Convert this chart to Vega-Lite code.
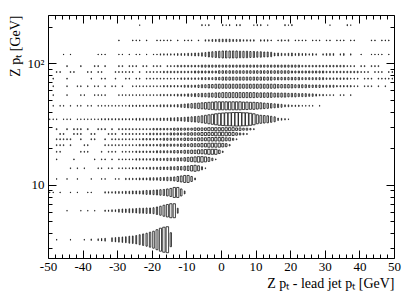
{
"$schema":"https://vega.github.io/schema/vega-lite/v6.json",
"width":346,"height":243,
"autosize":{"type":"none"},
"padding":{"left":48,"top":15,"right":21,"bottom":49},
"background":"#ffffff",
"config":{"view":{"stroke":null},"axis":{"labelFont":"Liberation Serif","titleFont":"Liberation Serif","labelFontSize":13,"titleFontSize":14,"labelColor":"#000","titleColor":"#000","domainColor":"#000","tickColor":"#000","domainWidth":1,"tickWidth":1,"grid":false,"labelFontWeight":"normal","titleFontWeight":"normal","labelFlush":false,"labelOverlap":false}},
"resolve":{"axis":{"x":"independent","y":"independent"}},
"layer":[
{
"data":{"values":[
{"x":-47.5,"b":1,"c":1},{"x":-43.5,"b":1,"c":1},{"x":-39.5,"b":1,"c":1},{"x":-37.5,"b":1,"c":2},{"x":-35.5,"b":1,"c":3},{"x":-34.5,"b":1,"c":5},{"x":-33.5,"b":1,"c":7},{"x":-31.5,"b":1,"c":12},{"x":-30.5,"b":1,"c":15},{"x":-29.5,"b":1,"c":19},{"x":-28.5,"b":1,"c":23},{"x":-27.5,"b":1,"c":27},{"x":-26.5,"b":1,"c":37},{"x":-25.5,"b":1,"c":42},{"x":-24.5,"b":1,"c":54},{"x":-23.5,"b":1,"c":75},{"x":-22.5,"b":1,"c":99},{"x":-21.5,"b":1,"c":126},{"x":-20.5,"b":1,"c":168},{"x":-19.5,"b":1,"c":216},{"x":-18.5,"b":1,"c":299},{"x":-17.5,"b":1,"c":395},{"x":-16.5,"b":1,"c":467},{"x":-15.5,"b":1,"c":505},{"x":-14.5,"b":1,"c":146},
{"x":-44.5,"b":2,"c":2},{"x":-40.5,"b":2,"c":2},{"x":-38.5,"b":2,"c":2},{"x":-36.5,"b":2,"c":2},{"x":-33.5,"b":2,"c":5},{"x":-32.5,"b":2,"c":5},{"x":-31.5,"b":2,"c":9},{"x":-30.5,"b":2,"c":9},{"x":-29.5,"b":2,"c":20},{"x":-28.5,"b":2,"c":27},{"x":-27.5,"b":2,"c":27},{"x":-26.5,"b":2,"c":35},{"x":-25.5,"b":2,"c":35},{"x":-24.5,"b":2,"c":44},{"x":-23.5,"b":2,"c":55},{"x":-22.5,"b":2,"c":55},{"x":-21.5,"b":2,"c":66},{"x":-20.5,"b":2,"c":66},{"x":-19.5,"b":2,"c":79},{"x":-18.5,"b":2,"c":123},{"x":-17.5,"b":2,"c":177},{"x":-16.5,"b":2,"c":264},{"x":-15.5,"b":2,"c":341},{"x":-14.5,"b":2,"c":428},{"x":-13.5,"b":2,"c":428},{"x":-12.5,"b":2,"c":55},
{"x":-49.5,"b":3,"c":4},{"x":-48.5,"b":3,"c":4},{"x":-46.5,"b":3,"c":4},{"x":-43.5,"b":3,"c":4},{"x":-41.5,"b":3,"c":4},{"x":-38.5,"b":3,"c":4},{"x":-37.5,"b":3,"c":4},{"x":-33.5,"b":3,"c":10},{"x":-32.5,"b":3,"c":10},{"x":-31.5,"b":3,"c":10},{"x":-30.5,"b":3,"c":17},{"x":-29.5,"b":3,"c":17},{"x":-28.5,"b":3,"c":17},{"x":-27.5,"b":3,"c":27},{"x":-26.5,"b":3,"c":27},{"x":-25.5,"b":3,"c":39},{"x":-24.5,"b":3,"c":39},{"x":-23.5,"b":3,"c":39},{"x":-22.5,"b":3,"c":53},{"x":-21.5,"b":3,"c":69},{"x":-20.5,"b":3,"c":69},{"x":-19.5,"b":3,"c":88},{"x":-18.5,"b":3,"c":108},{"x":-17.5,"b":3,"c":131},{"x":-16.5,"b":3,"c":156},{"x":-15.5,"b":3,"c":213},{"x":-14.5,"b":3,"c":278},{"x":-13.5,"b":3,"c":434},{"x":-12.5,"b":3,"c":434},{"x":-11.5,"b":3,"c":213},{"x":-10.5,"b":3,"c":39},
{"x":-47.5,"b":4,"c":7},{"x":-44.5,"b":4,"c":7},{"x":-41.5,"b":4,"c":7},{"x":-37.5,"b":4,"c":7},{"x":-34.5,"b":4,"c":7},{"x":-33.5,"b":4,"c":7},{"x":-30.5,"b":4,"c":7},{"x":-29.5,"b":4,"c":7},{"x":-27.5,"b":4,"c":16},{"x":-26.5,"b":4,"c":16},{"x":-25.5,"b":4,"c":16},{"x":-24.5,"b":4,"c":16},{"x":-23.5,"b":4,"c":29},{"x":-22.5,"b":4,"c":29},{"x":-21.5,"b":4,"c":29},{"x":-20.5,"b":4,"c":45},{"x":-19.5,"b":4,"c":45},{"x":-18.5,"b":4,"c":45},{"x":-17.5,"b":4,"c":65},{"x":-16.5,"b":4,"c":65},{"x":-15.5,"b":4,"c":88},{"x":-14.5,"b":4,"c":88},{"x":-13.5,"b":4,"c":115},{"x":-12.5,"b":4,"c":180},{"x":-11.5,"b":4,"c":260},{"x":-10.5,"b":4,"c":354},{"x":-9.5,"b":4,"c":354},{"x":-8.5,"b":4,"c":180},{"x":-7.5,"b":4,"c":29},
{"x":-43.5,"b":5,"c":11},{"x":-41.5,"b":5,"c":11},{"x":-39.5,"b":5,"c":11},{"x":-35.5,"b":5,"c":11},{"x":-34.5,"b":5,"c":11},{"x":-32.5,"b":5,"c":11},{"x":-31.5,"b":5,"c":11},{"x":-29.5,"b":5,"c":11},{"x":-28.5,"b":5,"c":11},{"x":-27.5,"b":5,"c":11},{"x":-26.5,"b":5,"c":11},{"x":-25.5,"b":5,"c":24},{"x":-24.5,"b":5,"c":24},{"x":-23.5,"b":5,"c":24},{"x":-22.5,"b":5,"c":24},{"x":-21.5,"b":5,"c":24},{"x":-20.5,"b":5,"c":43},{"x":-19.5,"b":5,"c":43},{"x":-18.5,"b":5,"c":43},{"x":-17.5,"b":5,"c":68},{"x":-16.5,"b":5,"c":68},{"x":-15.5,"b":5,"c":68},{"x":-14.5,"b":5,"c":97},{"x":-13.5,"b":5,"c":97},{"x":-12.5,"b":5,"c":132},{"x":-11.5,"b":5,"c":132},{"x":-10.5,"b":5,"c":173},{"x":-9.5,"b":5,"c":219},{"x":-8.5,"b":5,"c":327},{"x":-7.5,"b":5,"c":389},{"x":-6.5,"b":5,"c":270},{"x":-5.5,"b":5,"c":97},{"x":-4.5,"b":5,"c":11},
{"x":-47.5,"b":6,"c":15},{"x":-42.5,"b":6,"c":15},{"x":-36.5,"b":6,"c":15},{"x":-34.5,"b":6,"c":15},{"x":-33.5,"b":6,"c":15},{"x":-31.5,"b":6,"c":15},{"x":-29.5,"b":6,"c":15},{"x":-28.5,"b":6,"c":15},{"x":-27.5,"b":6,"c":15},{"x":-26.5,"b":6,"c":15},{"x":-25.5,"b":6,"c":15},{"x":-24.5,"b":6,"c":34},{"x":-23.5,"b":6,"c":34},{"x":-22.5,"b":6,"c":34},{"x":-21.5,"b":6,"c":34},{"x":-20.5,"b":6,"c":34},{"x":-19.5,"b":6,"c":61},{"x":-18.5,"b":6,"c":61},{"x":-17.5,"b":6,"c":61},{"x":-16.5,"b":6,"c":61},{"x":-15.5,"b":6,"c":95},{"x":-14.5,"b":6,"c":95},{"x":-13.5,"b":6,"c":95},{"x":-12.5,"b":6,"c":136},{"x":-11.5,"b":6,"c":136},{"x":-10.5,"b":6,"c":185},{"x":-9.5,"b":6,"c":242},{"x":-8.5,"b":6,"c":306},{"x":-7.5,"b":6,"c":378},{"x":-6.5,"b":6,"c":458},{"x":-5.5,"b":6,"c":458},{"x":-4.5,"b":6,"c":378},{"x":-3.5,"b":6,"c":242},{"x":-2.5,"b":6,"c":95},{"x":-1.5,"b":6,"c":15},
{"x":-47.5,"b":7,"c":20},{"x":-46.5,"b":7,"c":20},{"x":-40.5,"b":7,"c":20},{"x":-39.5,"b":7,"c":20},{"x":-38.5,"b":7,"c":20},{"x":-34.5,"b":7,"c":20},{"x":-32.5,"b":7,"c":20},{"x":-31.5,"b":7,"c":20},{"x":-30.5,"b":7,"c":20},{"x":-28.5,"b":7,"c":20},{"x":-27.5,"b":7,"c":20},{"x":-26.5,"b":7,"c":20},{"x":-25.5,"b":7,"c":20},{"x":-24.5,"b":7,"c":45},{"x":-23.5,"b":7,"c":45},{"x":-22.5,"b":7,"c":45},{"x":-21.5,"b":7,"c":45},{"x":-20.5,"b":7,"c":45},{"x":-19.5,"b":7,"c":45},{"x":-18.5,"b":7,"c":80},{"x":-17.5,"b":7,"c":80},{"x":-16.5,"b":7,"c":80},{"x":-15.5,"b":7,"c":80},{"x":-14.5,"b":7,"c":80},{"x":-13.5,"b":7,"c":126},{"x":-12.5,"b":7,"c":126},{"x":-11.5,"b":7,"c":126},{"x":-10.5,"b":7,"c":181},{"x":-9.5,"b":7,"c":181},{"x":-8.5,"b":7,"c":246},{"x":-7.5,"b":7,"c":246},{"x":-6.5,"b":7,"c":322},{"x":-5.5,"b":7,"c":322},{"x":-4.5,"b":7,"c":407},{"x":-3.5,"b":7,"c":503},{"x":-2.5,"b":7,"c":503},{"x":-1.5,"b":7,"c":503},{"x":-0.5,"b":7,"c":246},{"x":0.5,"b":7,"c":45},
{"x":-47.5,"b":8,"c":26},{"x":-46.5,"b":8,"c":26},{"x":-45.5,"b":8,"c":26},{"x":-43.5,"b":8,"c":26},{"x":-39.5,"b":8,"c":26},{"x":-38.5,"b":8,"c":26},{"x":-33.5,"b":8,"c":26},{"x":-32.5,"b":8,"c":26},{"x":-31.5,"b":8,"c":26},{"x":-30.5,"b":8,"c":26},{"x":-29.5,"b":8,"c":26},{"x":-28.5,"b":8,"c":26},{"x":-27.5,"b":8,"c":26},{"x":-26.5,"b":8,"c":26},{"x":-25.5,"b":8,"c":26},{"x":-24.5,"b":8,"c":26},{"x":-23.5,"b":8,"c":58},{"x":-22.5,"b":8,"c":58},{"x":-21.5,"b":8,"c":58},{"x":-20.5,"b":8,"c":58},{"x":-19.5,"b":8,"c":58},{"x":-18.5,"b":8,"c":58},{"x":-17.5,"b":8,"c":104},{"x":-16.5,"b":8,"c":104},{"x":-15.5,"b":8,"c":104},{"x":-14.5,"b":8,"c":104},{"x":-13.5,"b":8,"c":104},{"x":-12.5,"b":8,"c":104},{"x":-11.5,"b":8,"c":162},{"x":-10.5,"b":8,"c":162},{"x":-9.5,"b":8,"c":162},{"x":-8.5,"b":8,"c":233},{"x":-7.5,"b":8,"c":233},{"x":-6.5,"b":8,"c":233},{"x":-5.5,"b":8,"c":318},{"x":-4.5,"b":8,"c":318},{"x":-3.5,"b":8,"c":415},{"x":-2.5,"b":8,"c":415},{"x":-1.5,"b":8,"c":415},{"x":-0.5,"b":8,"c":415},{"x":0.5,"b":8,"c":318},{"x":1.5,"b":8,"c":233},{"x":2.5,"b":8,"c":58},
{"x":-47.5,"b":9,"c":32},{"x":-46.5,"b":9,"c":32},{"x":-45.5,"b":9,"c":32},{"x":-44.5,"b":9,"c":32},{"x":-43.5,"b":9,"c":32},{"x":-40.5,"b":9,"c":32},{"x":-37.5,"b":9,"c":32},{"x":-36.5,"b":9,"c":32},{"x":-33.5,"b":9,"c":32},{"x":-31.5,"b":9,"c":32},{"x":-30.5,"b":9,"c":32},{"x":-29.5,"b":9,"c":32},{"x":-28.5,"b":9,"c":32},{"x":-27.5,"b":9,"c":32},{"x":-26.5,"b":9,"c":32},{"x":-25.5,"b":9,"c":32},{"x":-24.5,"b":9,"c":32},{"x":-23.5,"b":9,"c":32},{"x":-22.5,"b":9,"c":73},{"x":-21.5,"b":9,"c":73},{"x":-20.5,"b":9,"c":73},{"x":-19.5,"b":9,"c":73},{"x":-18.5,"b":9,"c":73},{"x":-17.5,"b":9,"c":73},{"x":-16.5,"b":9,"c":129},{"x":-15.5,"b":9,"c":129},{"x":-14.5,"b":9,"c":129},{"x":-13.5,"b":9,"c":129},{"x":-12.5,"b":9,"c":129},{"x":-11.5,"b":9,"c":129},{"x":-10.5,"b":9,"c":202},{"x":-9.5,"b":9,"c":202},{"x":-8.5,"b":9,"c":202},{"x":-7.5,"b":9,"c":202},{"x":-6.5,"b":9,"c":291},{"x":-5.5,"b":9,"c":291},{"x":-4.5,"b":9,"c":291},{"x":-3.5,"b":9,"c":396},{"x":-2.5,"b":9,"c":396},{"x":-1.5,"b":9,"c":396},{"x":-0.5,"b":9,"c":396},{"x":0.5,"b":9,"c":396},{"x":1.5,"b":9,"c":291},{"x":2.5,"b":9,"c":291},{"x":3.5,"b":9,"c":129},{"x":4.5,"b":9,"c":32},
{"x":-46.5,"b":10,"c":40},{"x":-45.5,"b":10,"c":40},{"x":-42.5,"b":10,"c":40},{"x":-41.5,"b":10,"c":40},{"x":-40.5,"b":10,"c":40},{"x":-37.5,"b":10,"c":40},{"x":-36.5,"b":10,"c":40},{"x":-32.5,"b":10,"c":40},{"x":-31.5,"b":10,"c":40},{"x":-30.5,"b":10,"c":40},{"x":-28.5,"b":10,"c":40},{"x":-27.5,"b":10,"c":40},{"x":-26.5,"b":10,"c":40},{"x":-25.5,"b":10,"c":40},{"x":-24.5,"b":10,"c":40},{"x":-23.5,"b":10,"c":40},{"x":-22.5,"b":10,"c":40},{"x":-21.5,"b":10,"c":40},{"x":-20.5,"b":10,"c":89},{"x":-19.5,"b":10,"c":89},{"x":-18.5,"b":10,"c":89},{"x":-17.5,"b":10,"c":89},{"x":-16.5,"b":10,"c":89},{"x":-15.5,"b":10,"c":89},{"x":-14.5,"b":10,"c":158},{"x":-13.5,"b":10,"c":158},{"x":-12.5,"b":10,"c":158},{"x":-11.5,"b":10,"c":158},{"x":-10.5,"b":10,"c":158},{"x":-9.5,"b":10,"c":247},{"x":-8.5,"b":10,"c":247},{"x":-7.5,"b":10,"c":247},{"x":-6.5,"b":10,"c":247},{"x":-5.5,"b":10,"c":356},{"x":-4.5,"b":10,"c":356},{"x":-3.5,"b":10,"c":356},{"x":-2.5,"b":10,"c":356},{"x":-1.5,"b":10,"c":484},{"x":-0.5,"b":10,"c":484},{"x":0.5,"b":10,"c":484},{"x":1.5,"b":10,"c":484},{"x":2.5,"b":10,"c":356},{"x":3.5,"b":10,"c":356},{"x":4.5,"b":10,"c":247},{"x":5.5,"b":10,"c":158},{"x":6.5,"b":10,"c":89},{"x":7.5,"b":10,"c":40},
{"x":-47.5,"b":11,"c":47},{"x":-44.5,"b":11,"c":47},{"x":-42.5,"b":11,"c":47},{"x":-41.5,"b":11,"c":47},{"x":-40.5,"b":11,"c":47},{"x":-38.5,"b":11,"c":47},{"x":-35.5,"b":11,"c":47},{"x":-34.5,"b":11,"c":47},{"x":-33.5,"b":11,"c":47},{"x":-31.5,"b":11,"c":47},{"x":-29.5,"b":11,"c":47},{"x":-28.5,"b":11,"c":47},{"x":-27.5,"b":11,"c":47},{"x":-26.5,"b":11,"c":47},{"x":-25.5,"b":11,"c":47},{"x":-24.5,"b":11,"c":47},{"x":-23.5,"b":11,"c":47},{"x":-22.5,"b":11,"c":47},{"x":-21.5,"b":11,"c":47},{"x":-20.5,"b":11,"c":47},{"x":-19.5,"b":11,"c":107},{"x":-18.5,"b":11,"c":107},{"x":-17.5,"b":11,"c":107},{"x":-16.5,"b":11,"c":107},{"x":-15.5,"b":11,"c":107},{"x":-14.5,"b":11,"c":107},{"x":-13.5,"b":11,"c":190},{"x":-12.5,"b":11,"c":190},{"x":-11.5,"b":11,"c":190},{"x":-10.5,"b":11,"c":190},{"x":-9.5,"b":11,"c":190},{"x":-8.5,"b":11,"c":190},{"x":-7.5,"b":11,"c":297},{"x":-6.5,"b":11,"c":297},{"x":-5.5,"b":11,"c":297},{"x":-4.5,"b":11,"c":297},{"x":-3.5,"b":11,"c":427},{"x":-2.5,"b":11,"c":427},{"x":-1.5,"b":11,"c":427},{"x":-0.5,"b":11,"c":427},{"x":0.5,"b":11,"c":427},{"x":1.5,"b":11,"c":427},{"x":2.5,"b":11,"c":427},{"x":3.5,"b":11,"c":427},{"x":4.5,"b":11,"c":297},{"x":5.5,"b":11,"c":297},{"x":6.5,"b":11,"c":190},{"x":7.5,"b":11,"c":190},{"x":8.5,"b":11,"c":107},{"x":9.5,"b":11,"c":47},
{"x":-49.5,"b":12,"c":4},{"x":-48.5,"b":12,"c":4},{"x":-47.5,"b":12,"c":4},{"x":-45.5,"b":12,"c":4},{"x":-44.5,"b":12,"c":4},{"x":-43.5,"b":12,"c":4},{"x":-41.5,"b":12,"c":4},{"x":-40.5,"b":12,"c":4},{"x":-39.5,"b":12,"c":4},{"x":-38.5,"b":12,"c":4},{"x":-37.5,"b":12,"c":4},{"x":-36.5,"b":12,"c":4},{"x":-35.5,"b":12,"c":4},{"x":-34.5,"b":12,"c":10},{"x":-33.5,"b":12,"c":10},{"x":-32.5,"b":12,"c":10},{"x":-31.5,"b":12,"c":10},{"x":-30.5,"b":12,"c":10},{"x":-29.5,"b":12,"c":10},{"x":-28.5,"b":12,"c":10},{"x":-27.5,"b":12,"c":10},{"x":-26.5,"b":12,"c":10},{"x":-25.5,"b":12,"c":10},{"x":-24.5,"b":12,"c":17},{"x":-23.5,"b":12,"c":17},{"x":-22.5,"b":12,"c":17},{"x":-21.5,"b":12,"c":17},{"x":-20.5,"b":12,"c":17},{"x":-19.5,"b":12,"c":17},{"x":-18.5,"b":12,"c":17},{"x":-17.5,"b":12,"c":27},{"x":-16.5,"b":12,"c":27},{"x":-15.5,"b":12,"c":27},{"x":-14.5,"b":12,"c":39},{"x":-13.5,"b":12,"c":39},{"x":-12.5,"b":12,"c":53},{"x":-11.5,"b":12,"c":53},{"x":-10.5,"b":12,"c":69},{"x":-9.5,"b":12,"c":88},{"x":-8.5,"b":12,"c":108},{"x":-7.5,"b":12,"c":131},{"x":-6.5,"b":12,"c":156},{"x":-5.5,"b":12,"c":213},{"x":-4.5,"b":12,"c":278},{"x":-3.5,"b":12,"c":352},{"x":-2.5,"b":12,"c":434},{"x":-1.5,"b":12,"c":525},{"x":-0.5,"b":12,"c":625},{"x":0.5,"b":12,"c":678},{"x":1.5,"b":12,"c":733},{"x":2.5,"b":12,"c":733},{"x":3.5,"b":12,"c":791},{"x":4.5,"b":12,"c":791},{"x":5.5,"b":12,"c":791},{"x":6.5,"b":12,"c":733},{"x":7.5,"b":12,"c":733},{"x":8.5,"b":12,"c":625},{"x":9.5,"b":12,"c":525},{"x":10.5,"b":12,"c":352},{"x":11.5,"b":12,"c":278},{"x":12.5,"b":12,"c":244},{"x":13.5,"b":12,"c":213},{"x":14.5,"b":12,"c":156},{"x":15.5,"b":12,"c":108},{"x":16.5,"b":12,"c":27},{"x":17.5,"b":12,"c":17},{"x":18.5,"b":12,"c":10},{"x":19.5,"b":12,"c":4},
{"x":-48.5,"b":13,"c":7},{"x":-46.5,"b":13,"c":7},{"x":-45.5,"b":13,"c":7},{"x":-43.5,"b":13,"c":7},{"x":-41.5,"b":13,"c":7},{"x":-40.5,"b":13,"c":7},{"x":-38.5,"b":13,"c":7},{"x":-37.5,"b":13,"c":7},{"x":-35.5,"b":13,"c":7},{"x":-34.5,"b":13,"c":7},{"x":-33.5,"b":13,"c":7},{"x":-32.5,"b":13,"c":7},{"x":-31.5,"b":13,"c":7},{"x":-30.5,"b":13,"c":7},{"x":-29.5,"b":13,"c":7},{"x":-28.5,"b":13,"c":7},{"x":-27.5,"b":13,"c":7},{"x":-26.5,"b":13,"c":16},{"x":-25.5,"b":13,"c":16},{"x":-24.5,"b":13,"c":16},{"x":-23.5,"b":13,"c":16},{"x":-22.5,"b":13,"c":16},{"x":-21.5,"b":13,"c":16},{"x":-20.5,"b":13,"c":16},{"x":-19.5,"b":13,"c":16},{"x":-18.5,"b":13,"c":16},{"x":-17.5,"b":13,"c":29},{"x":-16.5,"b":13,"c":29},{"x":-15.5,"b":13,"c":29},{"x":-14.5,"b":13,"c":29},{"x":-13.5,"b":13,"c":29},{"x":-12.5,"b":13,"c":45},{"x":-11.5,"b":13,"c":65},{"x":-10.5,"b":13,"c":88},{"x":-9.5,"b":13,"c":115},{"x":-8.5,"b":13,"c":146},{"x":-7.5,"b":13,"c":180},{"x":-6.5,"b":13,"c":218},{"x":-5.5,"b":13,"c":260},{"x":-4.5,"b":13,"c":305},{"x":-3.5,"b":13,"c":354},{"x":-2.5,"b":13,"c":406},{"x":-1.5,"b":13,"c":462},{"x":-0.5,"b":13,"c":462},{"x":0.5,"b":13,"c":462},{"x":1.5,"b":13,"c":462},{"x":2.5,"b":13,"c":462},{"x":3.5,"b":13,"c":462},{"x":4.5,"b":13,"c":462},{"x":5.5,"b":13,"c":462},{"x":6.5,"b":13,"c":406},{"x":7.5,"b":13,"c":406},{"x":8.5,"b":13,"c":354},{"x":9.5,"b":13,"c":354},{"x":10.5,"b":13,"c":305},{"x":11.5,"b":13,"c":260},{"x":12.5,"b":13,"c":218},{"x":13.5,"b":13,"c":180},{"x":14.5,"b":13,"c":146},{"x":15.5,"b":13,"c":115},{"x":16.5,"b":13,"c":88},{"x":17.5,"b":13,"c":65},{"x":18.5,"b":13,"c":29},{"x":19.5,"b":13,"c":29},{"x":20.5,"b":13,"c":16},{"x":21.5,"b":13,"c":16},{"x":22.5,"b":13,"c":16},{"x":23.5,"b":13,"c":7},{"x":24.5,"b":13,"c":7},{"x":25.5,"b":13,"c":7},{"x":26.5,"b":13,"c":7},{"x":28.5,"b":13,"c":7},
{"x":-48.5,"b":14,"c":11},{"x":-44.5,"b":14,"c":11},{"x":-40.5,"b":14,"c":11},{"x":-39.5,"b":14,"c":11},{"x":-36.5,"b":14,"c":11},{"x":-35.5,"b":14,"c":11},{"x":-34.5,"b":14,"c":11},{"x":-33.5,"b":14,"c":11},{"x":-29.5,"b":14,"c":11},{"x":-28.5,"b":14,"c":11},{"x":-27.5,"b":14,"c":11},{"x":-26.5,"b":14,"c":11},{"x":-25.5,"b":14,"c":11},{"x":-24.5,"b":14,"c":11},{"x":-23.5,"b":14,"c":11},{"x":-22.5,"b":14,"c":11},{"x":-21.5,"b":14,"c":11},{"x":-20.5,"b":14,"c":11},{"x":-19.5,"b":14,"c":11},{"x":-18.5,"b":14,"c":11},{"x":-17.5,"b":14,"c":24},{"x":-16.5,"b":14,"c":24},{"x":-15.5,"b":14,"c":24},{"x":-14.5,"b":14,"c":24},{"x":-13.5,"b":14,"c":24},{"x":-12.5,"b":14,"c":43},{"x":-11.5,"b":14,"c":43},{"x":-10.5,"b":14,"c":43},{"x":-9.5,"b":14,"c":68},{"x":-8.5,"b":14,"c":68},{"x":-7.5,"b":14,"c":97},{"x":-6.5,"b":14,"c":97},{"x":-5.5,"b":14,"c":132},{"x":-4.5,"b":14,"c":132},{"x":-3.5,"b":14,"c":173},{"x":-2.5,"b":14,"c":173},{"x":-1.5,"b":14,"c":219},{"x":-0.5,"b":14,"c":219},{"x":0.5,"b":14,"c":270},{"x":1.5,"b":14,"c":270},{"x":2.5,"b":14,"c":270},{"x":3.5,"b":14,"c":270},{"x":4.5,"b":14,"c":270},{"x":5.5,"b":14,"c":270},{"x":6.5,"b":14,"c":270},{"x":7.5,"b":14,"c":270},{"x":8.5,"b":14,"c":270},{"x":9.5,"b":14,"c":270},{"x":10.5,"b":14,"c":219},{"x":11.5,"b":14,"c":219},{"x":12.5,"b":14,"c":219},{"x":13.5,"b":14,"c":219},{"x":14.5,"b":14,"c":219},{"x":15.5,"b":14,"c":173},{"x":16.5,"b":14,"c":173},{"x":17.5,"b":14,"c":173},{"x":18.5,"b":14,"c":173},{"x":19.5,"b":14,"c":132},{"x":20.5,"b":14,"c":132},{"x":21.5,"b":14,"c":132},{"x":22.5,"b":14,"c":97},{"x":23.5,"b":14,"c":97},{"x":24.5,"b":14,"c":97},{"x":25.5,"b":14,"c":68},{"x":26.5,"b":14,"c":68},{"x":27.5,"b":14,"c":43},{"x":28.5,"b":14,"c":24},{"x":29.5,"b":14,"c":24},{"x":30.5,"b":14,"c":11},{"x":31.5,"b":14,"c":11},{"x":32.5,"b":14,"c":11},{"x":34.5,"b":14,"c":11},{"x":35.5,"b":14,"c":11},{"x":37.5,"b":14,"c":11},
{"x":-48.5,"b":15,"c":15},{"x":-44.5,"b":15,"c":15},{"x":-41.5,"b":15,"c":15},{"x":-40.5,"b":15,"c":15},{"x":-38.5,"b":15,"c":15},{"x":-36.5,"b":15,"c":15},{"x":-35.5,"b":15,"c":15},{"x":-33.5,"b":15,"c":15},{"x":-31.5,"b":15,"c":15},{"x":-30.5,"b":15,"c":15},{"x":-28.5,"b":15,"c":15},{"x":-25.5,"b":15,"c":15},{"x":-24.5,"b":15,"c":15},{"x":-23.5,"b":15,"c":15},{"x":-22.5,"b":15,"c":15},{"x":-21.5,"b":15,"c":15},{"x":-20.5,"b":15,"c":15},{"x":-19.5,"b":15,"c":15},{"x":-18.5,"b":15,"c":15},{"x":-17.5,"b":15,"c":15},{"x":-16.5,"b":15,"c":34},{"x":-15.5,"b":15,"c":34},{"x":-14.5,"b":15,"c":34},{"x":-13.5,"b":15,"c":34},{"x":-12.5,"b":15,"c":34},{"x":-11.5,"b":15,"c":34},{"x":-10.5,"b":15,"c":61},{"x":-9.5,"b":15,"c":61},{"x":-8.5,"b":15,"c":61},{"x":-7.5,"b":15,"c":61},{"x":-6.5,"b":15,"c":95},{"x":-5.5,"b":15,"c":136},{"x":-4.5,"b":15,"c":136},{"x":-3.5,"b":15,"c":185},{"x":-2.5,"b":15,"c":185},{"x":-1.5,"b":15,"c":242},{"x":-0.5,"b":15,"c":242},{"x":0.5,"b":15,"c":242},{"x":1.5,"b":15,"c":242},{"x":2.5,"b":15,"c":242},{"x":3.5,"b":15,"c":242},{"x":4.5,"b":15,"c":242},{"x":5.5,"b":15,"c":242},{"x":6.5,"b":15,"c":242},{"x":7.5,"b":15,"c":242},{"x":8.5,"b":15,"c":242},{"x":9.5,"b":15,"c":242},{"x":10.5,"b":15,"c":242},{"x":11.5,"b":15,"c":242},{"x":12.5,"b":15,"c":242},{"x":13.5,"b":15,"c":242},{"x":14.5,"b":15,"c":242},{"x":15.5,"b":15,"c":242},{"x":16.5,"b":15,"c":185},{"x":17.5,"b":15,"c":185},{"x":18.5,"b":15,"c":185},{"x":19.5,"b":15,"c":185},{"x":20.5,"b":15,"c":185},{"x":21.5,"b":15,"c":136},{"x":22.5,"b":15,"c":136},{"x":23.5,"b":15,"c":136},{"x":24.5,"b":15,"c":136},{"x":25.5,"b":15,"c":95},{"x":26.5,"b":15,"c":95},{"x":27.5,"b":15,"c":95},{"x":28.5,"b":15,"c":95},{"x":29.5,"b":15,"c":61},{"x":30.5,"b":15,"c":61},{"x":31.5,"b":15,"c":61},{"x":32.5,"b":15,"c":61},{"x":33.5,"b":15,"c":34},{"x":34.5,"b":15,"c":34},{"x":35.5,"b":15,"c":34},{"x":36.5,"b":15,"c":34},{"x":37.5,"b":15,"c":34},{"x":38.5,"b":15,"c":15},{"x":39.5,"b":15,"c":15},{"x":41.5,"b":15,"c":15},{"x":42.5,"b":15,"c":15},{"x":43.5,"b":15,"c":15},{"x":45.5,"b":15,"c":15},{"x":47.5,"b":15,"c":15},
{"x":-48.5,"b":16,"c":20},{"x":-44.5,"b":16,"c":20},{"x":-37.5,"b":16,"c":20},{"x":-34.5,"b":16,"c":20},{"x":-33.5,"b":16,"c":20},{"x":-30.5,"b":16,"c":20},{"x":-27.5,"b":16,"c":20},{"x":-26.5,"b":16,"c":20},{"x":-24.5,"b":16,"c":20},{"x":-23.5,"b":16,"c":20},{"x":-21.5,"b":16,"c":20},{"x":-20.5,"b":16,"c":20},{"x":-19.5,"b":16,"c":20},{"x":-18.5,"b":16,"c":20},{"x":-17.5,"b":16,"c":20},{"x":-16.5,"b":16,"c":20},{"x":-15.5,"b":16,"c":20},{"x":-14.5,"b":16,"c":20},{"x":-13.5,"b":16,"c":20},{"x":-12.5,"b":16,"c":20},{"x":-11.5,"b":16,"c":45},{"x":-10.5,"b":16,"c":45},{"x":-9.5,"b":16,"c":45},{"x":-8.5,"b":16,"c":45},{"x":-7.5,"b":16,"c":45},{"x":-6.5,"b":16,"c":45},{"x":-5.5,"b":16,"c":80},{"x":-4.5,"b":16,"c":80},{"x":-3.5,"b":16,"c":80},{"x":-2.5,"b":16,"c":80},{"x":-1.5,"b":16,"c":126},{"x":-0.5,"b":16,"c":126},{"x":0.5,"b":16,"c":181},{"x":1.5,"b":16,"c":181},{"x":2.5,"b":16,"c":181},{"x":3.5,"b":16,"c":181},{"x":4.5,"b":16,"c":181},{"x":5.5,"b":16,"c":181},{"x":6.5,"b":16,"c":181},{"x":7.5,"b":16,"c":181},{"x":8.5,"b":16,"c":181},{"x":9.5,"b":16,"c":181},{"x":10.5,"b":16,"c":181},{"x":11.5,"b":16,"c":181},{"x":12.5,"b":16,"c":181},{"x":13.5,"b":16,"c":181},{"x":14.5,"b":16,"c":181},{"x":15.5,"b":16,"c":126},{"x":16.5,"b":16,"c":126},{"x":17.5,"b":16,"c":126},{"x":18.5,"b":16,"c":126},{"x":19.5,"b":16,"c":126},{"x":20.5,"b":16,"c":126},{"x":21.5,"b":16,"c":126},{"x":22.5,"b":16,"c":126},{"x":23.5,"b":16,"c":80},{"x":24.5,"b":16,"c":80},{"x":25.5,"b":16,"c":80},{"x":26.5,"b":16,"c":80},{"x":27.5,"b":16,"c":80},{"x":28.5,"b":16,"c":80},{"x":29.5,"b":16,"c":80},{"x":30.5,"b":16,"c":45},{"x":31.5,"b":16,"c":45},{"x":32.5,"b":16,"c":45},{"x":33.5,"b":16,"c":45},{"x":34.5,"b":16,"c":45},{"x":35.5,"b":16,"c":45},{"x":36.5,"b":16,"c":45},{"x":37.5,"b":16,"c":20},{"x":38.5,"b":16,"c":20},{"x":39.5,"b":16,"c":20},{"x":41.5,"b":16,"c":20},{"x":42.5,"b":16,"c":20},{"x":43.5,"b":16,"c":20},{"x":45.5,"b":16,"c":20},{"x":46.5,"b":16,"c":20},{"x":47.5,"b":16,"c":20},{"x":48.5,"b":16,"c":20},{"x":49.5,"b":16,"c":20},
{"x":-47.5,"b":17,"c":26},{"x":-46.5,"b":17,"c":26},{"x":-43.5,"b":17,"c":26},{"x":-42.5,"b":17,"c":26},{"x":-38.5,"b":17,"c":26},{"x":-37.5,"b":17,"c":26},{"x":-35.5,"b":17,"c":26},{"x":-34.5,"b":17,"c":26},{"x":-30.5,"b":17,"c":26},{"x":-29.5,"b":17,"c":26},{"x":-28.5,"b":17,"c":26},{"x":-27.5,"b":17,"c":26},{"x":-26.5,"b":17,"c":26},{"x":-25.5,"b":17,"c":26},{"x":-23.5,"b":17,"c":26},{"x":-21.5,"b":17,"c":26},{"x":-20.5,"b":17,"c":26},{"x":-19.5,"b":17,"c":26},{"x":-18.5,"b":17,"c":26},{"x":-17.5,"b":17,"c":26},{"x":-16.5,"b":17,"c":58},{"x":-15.5,"b":17,"c":58},{"x":-14.5,"b":17,"c":58},{"x":-13.5,"b":17,"c":58},{"x":-12.5,"b":17,"c":58},{"x":-11.5,"b":17,"c":58},{"x":-10.5,"b":17,"c":58},{"x":-9.5,"b":17,"c":58},{"x":-8.5,"b":17,"c":58},{"x":-7.5,"b":17,"c":104},{"x":-6.5,"b":17,"c":104},{"x":-5.5,"b":17,"c":104},{"x":-4.5,"b":17,"c":104},{"x":-3.5,"b":17,"c":104},{"x":-2.5,"b":17,"c":104},{"x":-1.5,"b":17,"c":104},{"x":-0.5,"b":17,"c":162},{"x":0.5,"b":17,"c":162},{"x":1.5,"b":17,"c":162},{"x":2.5,"b":17,"c":162},{"x":3.5,"b":17,"c":162},{"x":4.5,"b":17,"c":162},{"x":5.5,"b":17,"c":162},{"x":6.5,"b":17,"c":162},{"x":7.5,"b":17,"c":162},{"x":8.5,"b":17,"c":162},{"x":9.5,"b":17,"c":162},{"x":10.5,"b":17,"c":162},{"x":11.5,"b":17,"c":162},{"x":12.5,"b":17,"c":162},{"x":13.5,"b":17,"c":162},{"x":14.5,"b":17,"c":162},{"x":15.5,"b":17,"c":162},{"x":16.5,"b":17,"c":162},{"x":17.5,"b":17,"c":162},{"x":18.5,"b":17,"c":162},{"x":19.5,"b":17,"c":162},{"x":20.5,"b":17,"c":104},{"x":21.5,"b":17,"c":104},{"x":22.5,"b":17,"c":104},{"x":23.5,"b":17,"c":104},{"x":24.5,"b":17,"c":104},{"x":25.5,"b":17,"c":104},{"x":26.5,"b":17,"c":104},{"x":27.5,"b":17,"c":104},{"x":28.5,"b":17,"c":104},{"x":29.5,"b":17,"c":104},{"x":30.5,"b":17,"c":58},{"x":31.5,"b":17,"c":58},{"x":32.5,"b":17,"c":58},{"x":33.5,"b":17,"c":58},{"x":34.5,"b":17,"c":58},{"x":35.5,"b":17,"c":58},{"x":36.5,"b":17,"c":58},{"x":37.5,"b":17,"c":58},{"x":38.5,"b":17,"c":58},{"x":39.5,"b":17,"c":58},{"x":40.5,"b":17,"c":26},{"x":41.5,"b":17,"c":26},{"x":42.5,"b":17,"c":26},{"x":44.5,"b":17,"c":26},{"x":45.5,"b":17,"c":26},{"x":46.5,"b":17,"c":26},{"x":48.5,"b":17,"c":26},{"x":49.5,"b":17,"c":26},
{"x":-44.5,"b":18,"c":32},{"x":-40.5,"b":18,"c":32},{"x":-36.5,"b":18,"c":32},{"x":-35.5,"b":18,"c":32},{"x":-33.5,"b":18,"c":32},{"x":-29.5,"b":18,"c":32},{"x":-28.5,"b":18,"c":32},{"x":-26.5,"b":18,"c":32},{"x":-25.5,"b":18,"c":32},{"x":-24.5,"b":18,"c":32},{"x":-22.5,"b":18,"c":32},{"x":-21.5,"b":18,"c":32},{"x":-19.5,"b":18,"c":32},{"x":-18.5,"b":18,"c":32},{"x":-17.5,"b":18,"c":32},{"x":-15.5,"b":18,"c":32},{"x":-14.5,"b":18,"c":32},{"x":-13.5,"b":18,"c":32},{"x":-12.5,"b":18,"c":73},{"x":-11.5,"b":18,"c":73},{"x":-10.5,"b":18,"c":73},{"x":-9.5,"b":18,"c":73},{"x":-8.5,"b":18,"c":73},{"x":-7.5,"b":18,"c":73},{"x":-6.5,"b":18,"c":73},{"x":-5.5,"b":18,"c":129},{"x":-4.5,"b":18,"c":129},{"x":-3.5,"b":18,"c":129},{"x":-2.5,"b":18,"c":129},{"x":-1.5,"b":18,"c":129},{"x":-0.5,"b":18,"c":129},{"x":0.5,"b":18,"c":129},{"x":1.5,"b":18,"c":129},{"x":2.5,"b":18,"c":129},{"x":3.5,"b":18,"c":129},{"x":4.5,"b":18,"c":129},{"x":5.5,"b":18,"c":129},{"x":6.5,"b":18,"c":129},{"x":7.5,"b":18,"c":129},{"x":8.5,"b":18,"c":129},{"x":9.5,"b":18,"c":129},{"x":10.5,"b":18,"c":129},{"x":11.5,"b":18,"c":129},{"x":12.5,"b":18,"c":129},{"x":13.5,"b":18,"c":129},{"x":14.5,"b":18,"c":129},{"x":15.5,"b":18,"c":129},{"x":16.5,"b":18,"c":129},{"x":17.5,"b":18,"c":129},{"x":18.5,"b":18,"c":129},{"x":19.5,"b":18,"c":129},{"x":20.5,"b":18,"c":129},{"x":21.5,"b":18,"c":129},{"x":22.5,"b":18,"c":129},{"x":23.5,"b":18,"c":73},{"x":24.5,"b":18,"c":73},{"x":25.5,"b":18,"c":73},{"x":26.5,"b":18,"c":73},{"x":27.5,"b":18,"c":73},{"x":28.5,"b":18,"c":73},{"x":29.5,"b":18,"c":73},{"x":30.5,"b":18,"c":73},{"x":31.5,"b":18,"c":73},{"x":32.5,"b":18,"c":73},{"x":33.5,"b":18,"c":73},{"x":34.5,"b":18,"c":73},{"x":35.5,"b":18,"c":73},{"x":36.5,"b":18,"c":32},{"x":37.5,"b":18,"c":32},{"x":38.5,"b":18,"c":32},{"x":40.5,"b":18,"c":32},{"x":41.5,"b":18,"c":32},{"x":43.5,"b":18,"c":32},{"x":44.5,"b":18,"c":32},{"x":45.5,"b":18,"c":32},
{"x":-45.5,"b":19,"c":3},{"x":-43.5,"b":19,"c":3},{"x":-35.5,"b":19,"c":3},{"x":-34.5,"b":19,"c":3},{"x":-33.5,"b":19,"c":3},{"x":-29.5,"b":19,"c":3},{"x":-28.5,"b":19,"c":3},{"x":-26.5,"b":19,"c":3},{"x":-24.5,"b":19,"c":3},{"x":-23.5,"b":19,"c":3},{"x":-21.5,"b":19,"c":3},{"x":-19.5,"b":19,"c":3},{"x":-18.5,"b":19,"c":3},{"x":-17.5,"b":19,"c":7},{"x":-16.5,"b":19,"c":7},{"x":-15.5,"b":19,"c":7},{"x":-14.5,"b":19,"c":7},{"x":-13.5,"b":19,"c":7},{"x":-12.5,"b":19,"c":13},{"x":-11.5,"b":19,"c":13},{"x":-10.5,"b":19,"c":13},{"x":-9.5,"b":19,"c":20},{"x":-8.5,"b":19,"c":20},{"x":-7.5,"b":19,"c":29},{"x":-6.5,"b":19,"c":29},{"x":-5.5,"b":19,"c":39},{"x":-4.5,"b":19,"c":51},{"x":-3.5,"b":19,"c":79},{"x":-2.5,"b":19,"c":96},{"x":-1.5,"b":19,"c":114},{"x":-0.5,"b":19,"c":134},{"x":0.5,"b":19,"c":156},{"x":1.5,"b":19,"c":156},{"x":2.5,"b":19,"c":156},{"x":3.5,"b":19,"c":156},{"x":4.5,"b":19,"c":156},{"x":5.5,"b":19,"c":134},{"x":6.5,"b":19,"c":134},{"x":7.5,"b":19,"c":134},{"x":8.5,"b":19,"c":114},{"x":9.5,"b":19,"c":114},{"x":10.5,"b":19,"c":96},{"x":11.5,"b":19,"c":96},{"x":12.5,"b":19,"c":79},{"x":13.5,"b":19,"c":79},{"x":14.5,"b":19,"c":64},{"x":15.5,"b":19,"c":29},{"x":16.5,"b":19,"c":29},{"x":17.5,"b":19,"c":20},{"x":18.5,"b":19,"c":13},{"x":19.5,"b":19,"c":20},{"x":20.5,"b":19,"c":29},{"x":21.5,"b":19,"c":13},{"x":22.5,"b":19,"c":20},{"x":23.5,"b":19,"c":13},{"x":24.5,"b":19,"c":13},{"x":25.5,"b":19,"c":7},{"x":26.5,"b":19,"c":13},{"x":27.5,"b":19,"c":7},{"x":29.5,"b":19,"c":7},{"x":30.5,"b":19,"c":13},{"x":31.5,"b":19,"c":13},{"x":32.5,"b":19,"c":13},{"x":34.5,"b":19,"c":7},{"x":35.5,"b":19,"c":13},{"x":37.5,"b":19,"c":7},{"x":40.5,"b":19,"c":3},{"x":43.5,"b":19,"c":3},{"x":44.5,"b":19,"c":3},{"x":45.5,"b":19,"c":3},{"x":46.5,"b":19,"c":3},{"x":48.5,"b":19,"c":3},
{"x":-29.5,"b":20,"c":10},{"x":-25.5,"b":20,"c":10},{"x":-24.5,"b":20,"c":10},{"x":-23.5,"b":20,"c":10},{"x":-21.5,"b":20,"c":10},{"x":-18.5,"b":20,"c":10},{"x":-17.5,"b":20,"c":10},{"x":-16.5,"b":20,"c":10},{"x":-15.5,"b":20,"c":10},{"x":-14.5,"b":20,"c":10},{"x":-12.5,"b":20,"c":10},{"x":-10.5,"b":20,"c":10},{"x":-9.5,"b":20,"c":10},{"x":-8.5,"b":20,"c":10},{"x":-6.5,"b":20,"c":10},{"x":-4.5,"b":20,"c":21},{"x":-3.5,"b":20,"c":21},{"x":-2.5,"b":20,"c":38},{"x":-1.5,"b":20,"c":38},{"x":-0.5,"b":20,"c":60},{"x":0.5,"b":20,"c":60},{"x":1.5,"b":20,"c":60},{"x":2.5,"b":20,"c":60},{"x":3.5,"b":20,"c":38},{"x":4.5,"b":20,"c":38},{"x":5.5,"b":20,"c":38},{"x":6.5,"b":20,"c":21},{"x":7.5,"b":20,"c":21},{"x":8.5,"b":20,"c":21},{"x":9.5,"b":20,"c":21},{"x":11.5,"b":20,"c":21},{"x":12.5,"b":20,"c":21},{"x":13.5,"b":20,"c":21},{"x":14.5,"b":20,"c":10},{"x":16.5,"b":20,"c":10},{"x":17.5,"b":20,"c":21},{"x":18.5,"b":20,"c":10},{"x":19.5,"b":20,"c":21},{"x":21.5,"b":20,"c":10},{"x":22.5,"b":20,"c":10},{"x":23.5,"b":20,"c":10},{"x":24.5,"b":20,"c":10},{"x":26.5,"b":20,"c":10},{"x":27.5,"b":20,"c":10},{"x":28.5,"b":20,"c":10},{"x":30.5,"b":20,"c":10},{"x":31.5,"b":20,"c":10},{"x":33.5,"b":20,"c":10},{"x":34.5,"b":20,"c":10},{"x":35.5,"b":20,"c":10},{"x":37.5,"b":20,"c":10},{"x":38.5,"b":20,"c":10},{"x":43.5,"b":20,"c":10},{"x":44.5,"b":20,"c":10},{"x":46.5,"b":20,"c":10},{"x":47.5,"b":20,"c":10},{"x":48.5,"b":20,"c":10},
{"x":-23.5,"b":21,"c":2},{"x":-5.5,"b":21,"c":5},{"x":-4.5,"b":21,"c":2},{"x":-3.5,"b":21,"c":5},{"x":0.5,"b":21,"c":5},{"x":1.5,"b":21,"c":2},{"x":2.5,"b":21,"c":5},{"x":4.5,"b":21,"c":5},{"x":5.5,"b":21,"c":5},{"x":9.5,"b":21,"c":2},{"x":10.5,"b":21,"c":5},{"x":11.5,"b":21,"c":5},{"x":13.5,"b":21,"c":2},{"x":18.5,"b":21,"c":5},{"x":19.5,"b":21,"c":2},{"x":20.5,"b":21,"c":5},{"x":31.5,"b":21,"c":2},{"x":36.5,"b":21,"c":5},{"x":37.5,"b":21,"c":2}
]},
"transform":[{"lookup":"b","from":{"data":{"values":[
{"b":1,"lo":2.5,"hi":5,"y":3.536},{"b":2,"lo":5,"hi":7.5,"y":6.124},{"b":3,"lo":7.5,"hi":10,"y":8.660},{"b":4,"lo":10,"hi":12.5,"y":11.18},{"b":5,"lo":12.5,"hi":15,"y":13.69},{"b":6,"lo":15,"hi":17.5,"y":16.20},{"b":7,"lo":17.5,"hi":20,"y":18.71},{"b":8,"lo":20,"hi":22.5,"y":21.21},{"b":9,"lo":22.5,"hi":25,"y":23.72},{"b":10,"lo":25,"hi":27.5,"y":26.22},{"b":11,"lo":27.5,"hi":30,"y":28.72},{"b":12,"lo":30,"hi":40,"y":34.64},{"b":13,"lo":40,"hi":50,"y":44.72},{"b":14,"lo":50,"hi":60,"y":54.77},{"b":15,"lo":60,"hi":70,"y":64.81},{"b":16,"lo":70,"hi":80,"y":74.83},{"b":17,"lo":80,"hi":90,"y":84.85},{"b":18,"lo":90,"hi":100,"y":94.87},{"b":19,"lo":100,"hi":140,"y":118.3},{"b":20,"lo":140,"hi":170,"y":154.3},{"b":21,"lo":170,"hi":250,"y":206.2}
]},"key":"b","fields":["y"]}}],
"mark":{"type":"point","filled":false,"color":"#111","strokeWidth":0.8,"opacity":1},
"encoding":{
"x":{"field":"x","type":"quantitative","scale":{"domain":[-50,50],"nice":false,"zero":false},
"axis":{"orient":"bottom","values":[-50,-40,-30,-20,-10,0,10,20,30,40,50],"tickSize":-8,"labelPadding":10,"labelExpr":"(datum.value<0?'-':'')+abs(datum.value)","title":"Z p\u209c - lead jet p\u209c [GeV]","titleAnchor":"end","titleAlign":"right","titleX":346,"titleY":29,"titleBaseline":"alphabetic"}},
"y":{"field":"y","type":"quantitative","scale":{"type":"log","domain":[2.5,250],"nice":false,"zero":false},
"axis":{"orient":"left","values":[10,100],"tickSize":-8,"labelPadding":12,"labelExpr":"datum.value>=100?'10\u00b2':'10'","title":"Z p\u209c [GeV]","titleAnchor":"end","titleAlign":"right","titleAngle":-90,"titleX":-33,"titleY":0,"titleBaseline":"middle"}},
"shape":{"field":"b","type":"nominal","legend":null,"scale":{"domain":[1,2,3,4,5,6,7,8,9,10,11,12,13,14,15,16,17,18,19,20,21],"range":[
"M-0.0946,-1L0.0946,-1L0.0946,1L-0.0946,1Z",
"M-0.0946,-0.585L0.0946,-0.585L0.0946,0.585L-0.0946,0.585Z",
"M-0.0946,-0.415L0.0946,-0.415L0.0946,0.415L-0.0946,0.415Z",
"M-0.0946,-0.322L0.0946,-0.322L0.0946,0.322L-0.0946,0.322Z",
"M-0.0946,-0.263L0.0946,-0.263L0.0946,0.263L-0.0946,0.263Z",
"M-0.0946,-0.222L0.0946,-0.222L0.0946,0.222L-0.0946,0.222Z",
"M-0.0946,-0.193L0.0946,-0.193L0.0946,0.193L-0.0946,0.193Z",
"M-0.0946,-0.170L0.0946,-0.170L0.0946,0.170L-0.0946,0.170Z",
"M-0.0946,-0.152L0.0946,-0.152L0.0946,0.152L-0.0946,0.152Z",
"M-0.0946,-0.1375L0.0946,-0.1375L0.0946,0.1375L-0.0946,0.1375Z",
"M-0.0946,-0.1255L0.0946,-0.1255L0.0946,0.1255L-0.0946,0.1255Z",
"M-0.0946,-0.415L0.0946,-0.415L0.0946,0.415L-0.0946,0.415Z",
"M-0.0946,-0.322L0.0946,-0.322L0.0946,0.322L-0.0946,0.322Z",
"M-0.0946,-0.263L0.0946,-0.263L0.0946,0.263L-0.0946,0.263Z",
"M-0.0946,-0.222L0.0946,-0.222L0.0946,0.222L-0.0946,0.222Z",
"M-0.0946,-0.193L0.0946,-0.193L0.0946,0.193L-0.0946,0.193Z",
"M-0.0946,-0.170L0.0946,-0.170L0.0946,0.170L-0.0946,0.170Z",
"M-0.0946,-0.152L0.0946,-0.152L0.0946,0.152L-0.0946,0.152Z",
"M-0.0946,-0.485L0.0946,-0.485L0.0946,0.485L-0.0946,0.485Z",
"M-0.0946,-0.280L0.0946,-0.280L0.0946,0.280L-0.0946,0.280Z",
"M-0.0946,-0.556L0.0946,-0.556L0.0946,0.556L-0.0946,0.556Z"]}},
"size":{"field":"c","type":"quantitative","legend":null,"scale":{"type":"linear","domain":[0,1000],"range":[0,1338],"zero":true}}
}
},
{
"data":{"values":[{"x":0,"y":10}]},
"mark":{"type":"point","opacity":0},
"encoding":{
"x":{"field":"x","type":"quantitative","axis":{"orient":"top","values":[-50,-40,-30,-20,-10,0,10,20,30,40,50],"tickSize":-8,"labels":false,"title":null}},
"y":{"field":"y","type":"quantitative","axis":{"orient":"right","values":[10,100],"tickSize":-8,"labels":false,"title":null}}
}
},
{
"data":{"values":[{"x":0,"y":10}]},
"mark":{"type":"point","opacity":0},
"encoding":{
"x":{"field":"x","type":"quantitative","axis":{"orient":"bottom","values":[-48,-46,-44,-42,-38,-36,-34,-32,-28,-26,-24,-22,-18,-16,-14,-12,-8,-6,-4,-2,2,4,6,8,12,14,16,18,22,24,26,28,32,34,36,38,42,44,46,48],"tickSize":-4,"labels":false,"domain":false,"title":null}},
"y":{"field":"y","type":"quantitative","axis":{"orient":"left","values":[3,4,5,6,7,8,9,20,30,40,50,60,70,80,90,200],"tickSize":-4,"labels":false,"domain":false,"title":null}}
}
},
{
"data":{"values":[{"x":0,"y":10}]},
"mark":{"type":"point","opacity":0},
"encoding":{
"x":{"field":"x","type":"quantitative","axis":{"orient":"top","values":[-48,-46,-44,-42,-38,-36,-34,-32,-28,-26,-24,-22,-18,-16,-14,-12,-8,-6,-4,-2,2,4,6,8,12,14,16,18,22,24,26,28,32,34,36,38,42,44,46,48],"tickSize":-4,"labels":false,"domain":false,"title":null}},
"y":{"field":"y","type":"quantitative","axis":{"orient":"right","values":[3,4,5,6,7,8,9,20,30,40,50,60,70,80,90,200],"tickSize":-4,"labels":false,"domain":false,"title":null}}
}
}
]
}
